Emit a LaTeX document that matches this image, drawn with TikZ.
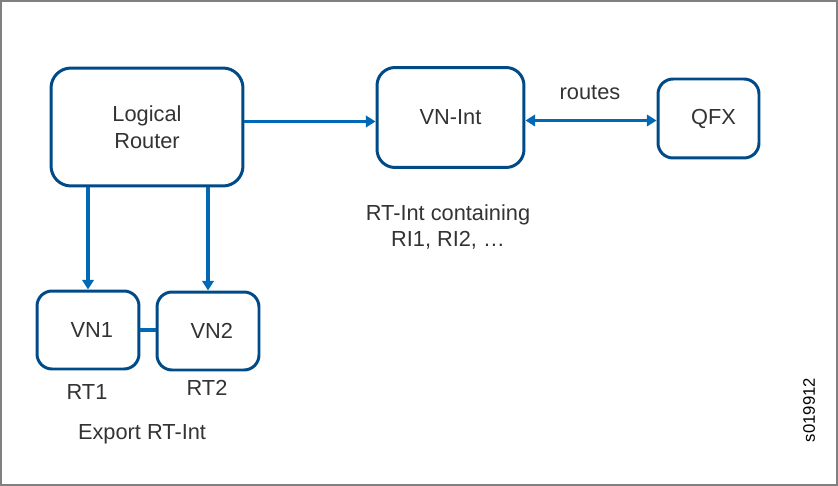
\documentclass[tikz,border=0pt]{standalone}
\usepackage{fontspec}
\setmainfont{Liberation Sans}
\usetikzlibrary{arrows.meta,positioning}
\definecolor{BoxBlue}{RGB}{0,75,135}
\definecolor{LinkBlue}{RGB}{0,104,180}
\definecolor{TextGray}{RGB}{51,51,51}
\definecolor{FrameGray}{RGB}{128,128,128}
\tikzset{
  unit/.style={draw=BoxBlue,line width=1.7pt,fill=white,rounded corners=0.3cm,
    align=center,text=TextGray,font=\fontsize{12.4}{15.3}\selectfont},
  caption/.style={text=TextGray,align=center,font=\fontsize{12.4}{15.3}\selectfont},
  link/.style={-{Triangle[length=5.5pt,width=6.5pt]},line width=2.2pt,LinkBlue},
  bilink/.style={{Triangle[length=5.5pt,width=6.5pt]}-{Triangle[length=5.5pt,width=6.5pt]},
    line width=2.2pt,LinkBlue}
}

\begin{document}
\begin{tikzpicture}[x=0.02cm,y=-0.02cm]
  \useasboundingbox (0,0) rectangle (838,486);
  \draw[FrameGray,line width=1.4pt] (1.2,1.2) rectangle (836.8,484.8);

  \node[unit,minimum width=3.84cm,minimum height=2.36cm,rounded corners=0.4cm]
    (lr) at (147,127) {Logical\\Router};
  \node[unit,minimum width=2.94cm,minimum height=2cm,rounded corners=0.36cm]
    (vnint) at (450.5,117.5) {VN-Int};
  \node[unit,minimum width=2.02cm,minimum height=1.58cm] (qfx) at (708.5,118.5) {\hspace{0.2cm}QFX};
  \node[unit,minimum width=2.04cm,minimum height=1.56cm] (vn1) at (88,330) {\hspace{0.15cm}VN1};
  \node[unit,minimum width=2.04cm,minimum height=1.56cm] (vn2) at (208,331) {\hspace{0.15cm}VN2};

  \draw[link] ([yshift=-0.08cm]lr.east |- vnint.west) -- ([yshift=-0.08cm]vnint.west);
  \draw[bilink] ([yshift=-0.06cm]vnint.east) -- ([yshift=-0.06cm]vnint.east -| qfx.west);
  \draw[link] (lr.south -| vn1.north) -- (vn1.north);
  \draw[link] (lr.south -| vn2.north) -- (vn2.north);
  \draw[line width=2.2pt,LinkBlue] (vn1.east) -- (vn1.east -| vn2.west);

  % labels
  \node[caption] (routes) at (590,93) {routes};
  \node[caption] (rtint) at (448,227) {RT-Int containing\\RI1, RI2, \dots};
  \node[caption] (rt1) at (87,392) {RT1};
  \node[caption] (rt2) at (207,388) {RT2};
  \node[caption] (export) at (142,434) {Export RT-Int};
  \node[text=black,font=\fontsize{9.5}{11}\selectfont,rotate=90] (fig) at (809,410) {s019912};
\end{tikzpicture}
\end{document}
